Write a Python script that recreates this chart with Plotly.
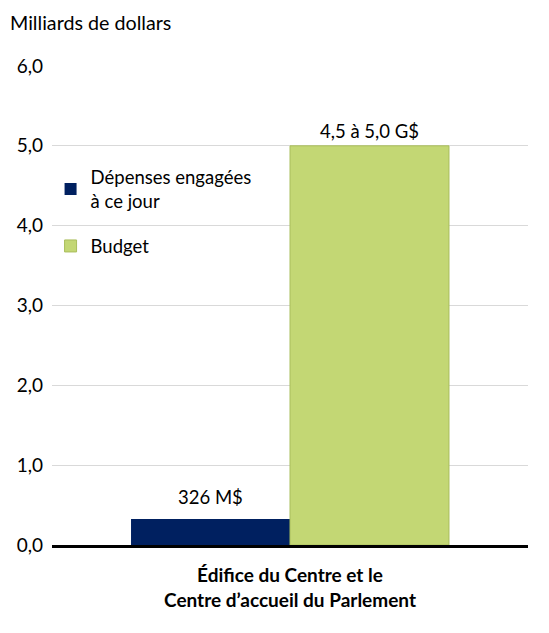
import plotly.graph_objects as go

categories = ["<b>Édifice du Centre et le</b><br><b>Centre d’accueil du Parlement</b>"]
series_names = ["Dépenses engagées<br>à ce jour", "Budget"]
spent = [0.326]
budget = [5.0]
spent_labels = ["326 M$"]
budget_labels = ["4,5 à 5,0 G$"]
tick_vals = [0, 1, 2, 3, 4, 5, 6]
tick_text = ["0,0", "1,0", "2,0", "3,0", "4,0", "5,0", "6,0"]

FONT = "Lato, Open Sans, sans-serif"
PLOT_W = 476
BAR_W_PX = PLOT_W * (1 - 0.332) / 2

fig = go.Figure()
fig.add_trace(go.Bar(
    x=categories, y=spent, name=series_names[0], legend="legend",
    marker=dict(color="#002060", line=dict(width=0)),
))
fig.add_trace(go.Bar(
    x=categories, y=budget, name=series_names[1], legend="legend2",
    marker=dict(color="#C3D774", line=dict(width=1, color="#A9BE5C")),
))

for vals, labels, sign, ysh in [(spent, spent_labels, -1, 22), (budget, budget_labels, 1, 15)]:
    for c, v, t in zip(categories, vals, labels):
        fig.add_annotation(
            x=c, y=v, text=t, showarrow=False, xanchor="center", yanchor="middle",
            xshift=sign * BAR_W_PX / 2, yshift=ysh,
            font=dict(size=18.5, family=FONT, color="#000000"),
        )

legend_common = dict(xanchor="left", yanchor="top", bgcolor="rgba(0,0,0,0)",
                     font=dict(size=18.5, family=FONT), itemwidth=30)
fig.update_layout(
    width=549, height=633,
    margin=dict(l=44, r=29, t=58, b=96, autoexpand=False),
    paper_bgcolor="white", plot_bgcolor="white",
    barmode="group", bargap=0.332, bargroupgap=0,
    font=dict(family=FONT, size=18, color="#000000"),
    showlegend=True,
    legend=dict(x=-0.003, y=0.807, **legend_common),
    legend2=dict(x=-0.003, y=0.663, **legend_common),
)
fig.update_yaxes(
    range=[0, 6], tickvals=tick_vals, ticktext=tick_text,
    showgrid=True, gridcolor="#D9D9D9", gridwidth=1,
    zeroline=False, showline=False, ticks="", ticklabelstandoff=8,
    tickfont=dict(size=19, family=FONT), automargin=False,
)
fig.update_xaxes(
    showline=True, linecolor="#000000", linewidth=3, automargin=False,
    ticks="", tickfont=dict(size=19, family=FONT), ticklabelstandoff=11,
)
fig.add_annotation(
    text="Milliards de dollars", xref="paper", yref="paper",
    x=-44/PLOT_W, y=1 + 44/479, xanchor="left", yanchor="middle",
    showarrow=False, font=dict(size=19.7, family=FONT, color="#000000"),
)
fig.write_html("out.html")
